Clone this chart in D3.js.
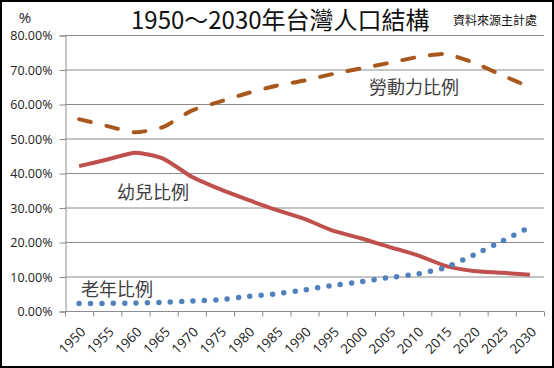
<!DOCTYPE html>
<html>
<head>
<meta charset="utf-8">
<script src="https://cdn.jsdelivr.net/npm/d3@7"></script>
<style>
  body { margin: 0; background: #fff; }
  svg { display: block; }
</style>
</head>
<body>
<div class="d3-container"></div>
<script>
// data (percent)
const years = [1950, 1955, 1960, 1965, 1970, 1975, 1980, 1985, 1990, 1995, 2000, 2005, 2010, 2015, 2020, 2025, 2030];
const labor = [55.6, 53.6, 51.8, 53.4, 58.1, 60.7, 63.2, 65.3, 66.8, 68.7, 70.3, 71.9, 73.6, 74.5, 72.0, 68.4, 64.9];
const child = [42.0, 43.9, 45.9, 44.1, 38.9, 35.3, 32.2, 29.3, 26.7, 23.3, 21.1, 18.6, 16.2, 13.1, 11.6, 11.1, 10.5];
const elderly = [2.2, 2.2, 2.3, 2.5, 2.9, 3.3, 4.2, 5.0, 6.1, 7.4, 8.5, 9.7, 10.7, 12.6, 16.2, 20.2, 24.3];
const yTicks = [0, 10, 20, 30, 40, 50, 60, 70, 80];

const width = 554;
const height = 368;
const margin = {top: 35, bottom: 57, left: 65, right: 10};
const cjk = "'Noto Sans CJK TC', 'Noto Sans', sans-serif";
const latin = "'Open Sans', 'Noto Sans', sans-serif";

const svg = d3.select(".d3-container")
  .append("svg")
  .attr("width", width)
  .attr("height", height);

// outer black frame
svg.append("rect")
  .attr("x", 1).attr("y", 1)
  .attr("width", width - 2).attr("height", height - 2)
  .attr("fill", "#fff")
  .attr("stroke", "#000")
  .attr("stroke-width", 2);

const x = d3.scaleBand()
  .domain(years)
  .range([margin.left, width - margin.right]);

const y = d3.scaleLinear()
  .domain([0, 80])
  .range([height - margin.bottom, margin.top]);

// gridlines
svg.append("g")
  .selectAll("line")
  .data(yTicks.slice(1))
  .join("line")
  .attr("x1", margin.left)
  .attr("x2", width - margin.right)
  .attr("y1", d => y(d) + 0.5)
  .attr("y2", d => y(d) + 0.5)
  .attr("stroke", "#8c8c8c");

// y axis
function yAxis(g) {
  g.attr("transform", `translate(${margin.left + 0.5}, 0.5)`)
    .call(d3.axisLeft(y).tickValues(yTicks).tickSize(6).tickFormat(d => d.toFixed(2) + "%"))
    .call(g => g.select(".domain").attr("stroke", "#8c8c8c"))
    .call(g => g.selectAll(".tick line").attr("stroke", "#8c8c8c"))
    .selectAll("text")
      .attr("font-family", latin)
      .attr("font-size", 12.5)
      .attr("fill", "#222")
      .attr("x", -13);
}

// x axis, ticks sit between the categories
function xAxis(g) {
  g.attr("transform", `translate(0, ${height - margin.bottom + 0.5})`);
  g.append("line")
    .attr("x1", margin.left).attr("x2", width - margin.right)
    .attr("stroke", "#8c8c8c");
  g.selectAll("line.tk")
    .data(d3.range(years.length + 1))
    .join("line")
    .attr("class", "tk")
    .attr("x1", i => margin.left + i * x.step() + 0.5)
    .attr("x2", i => margin.left + i * x.step() + 0.5)
    .attr("y1", 0).attr("y2", 5)
    .attr("stroke", "#8c8c8c");
  g.selectAll("text")
    .data(years)
    .join("text")
    .attr("transform", d => `translate(${x(d) + x.bandwidth() / 2 + 4}, 18) rotate(-45)`)
    .attr("text-anchor", "end")
    .attr("dy", "0.35em")
    .attr("font-family", latin)
    .attr("font-size", 13.5)
    .attr("fill", "#222")
    .text(d => d);
}

svg.append("g").call(yAxis);
svg.append("g").call(xAxis);

const line = d3.line()
  .x((d, i) => x(years[i]) + x.bandwidth() / 2)
  .y(d => y(d))
  .curve(d3.curveCardinal.tension(0.4));

// labour force, dashed brown
svg.append("path")
  .attr("d", line(labor))
  .attr("fill", "none")
  .attr("stroke", "#a8581c")
  .attr("stroke-width", 4)
  .attr("stroke-linecap", "round")
  .attr("stroke-dasharray", "12 16");

// children, solid red
svg.append("path")
  .attr("d", line(child))
  .attr("fill", "none")
  .attr("stroke", "#c0504d")
  .attr("stroke-width", 4)
  .attr("stroke-linejoin", "round");

// elderly, round dots
svg.append("path")
  .attr("d", line(elderly))
  .attr("fill", "none")
  .attr("stroke", "#4f81bd")
  .attr("stroke-width", 5.5)
  .attr("stroke-linecap", "round")
  .attr("stroke-dasharray", "0 11.4");

// titles and series labels
svg.append("text")
  .attr("x", 131).attr("y", 29)
  .attr("font-family", cjk)
  .attr("font-size", 24)
  .attr("fill", "#111")
  .text("1950～2030年台灣人口結構");

svg.append("text")
  .attr("x", 453).attr("y", 25)
  .attr("font-family", cjk)
  .attr("font-size", 12)
  .attr("fill", "#111")
  .text("資料來源主計處");

svg.append("text")
  .attr("x", 25).attr("y", 23)
  .attr("text-anchor", "middle")
  .attr("font-family", latin)
  .attr("font-size", 15)
  .attr("fill", "#222")
  .text("%");

const labels = [
  {t: "勞動力比例", x: 369, y: 94},
  {t: "幼兒比例", x: 117, y: 199},
  {t: "老年比例", x: 81, y: 296}
];
svg.append("g")
  .selectAll("text")
  .data(labels)
  .join("text")
  .attr("x", d => d.x).attr("y", d => d.y)
  .attr("font-family", cjk)
  .attr("font-size", 18)
  .attr("fill", "#404040")
  .text(d => d.t);
</script>
</body>
</html>
